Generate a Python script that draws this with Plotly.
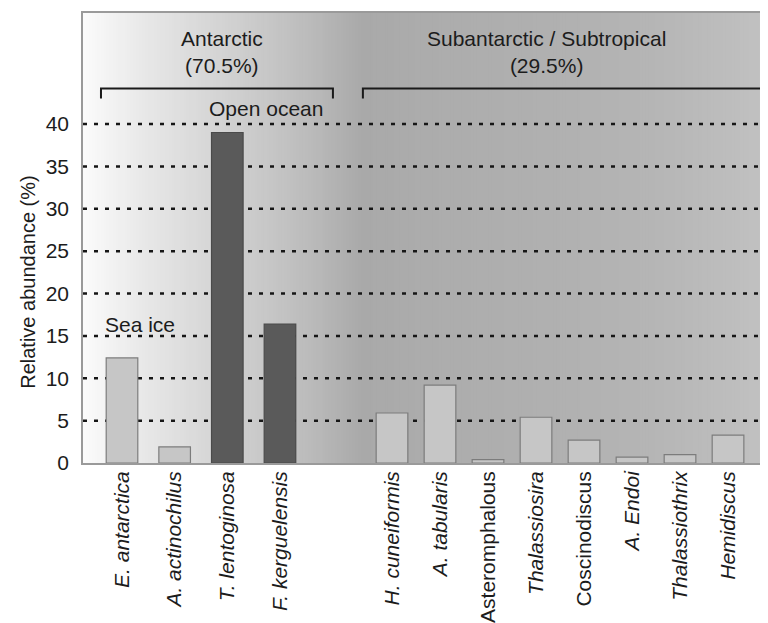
import plotly.graph_objects as go

# ---------------- data ----------------
antarctic_taxa = ["E. antarctica", "A. actinochilus", "T. lentoginosa", "F. kerguelensis"]
antarctic_values = [12.4, 1.9, 39.0, 16.4]
antarctic_habitat = ["Sea ice", "Sea ice", "Open ocean", "Open ocean"]

subantarctic_taxa = ["H. cuneiformis", "A. tabularis", "Asteromphalous", "Thalassiosira",
                     "Coscinodiscus", "A. Endoi", "Thalassiothrix", "Hemidiscus"]
subantarctic_values = [5.9, 9.2, 0.4, 5.4, 2.7, 0.7, 1.0, 3.3]
subantarctic_italic = [True, True, False, True, False, True, True, True]

y_ticks = [0, 5, 10, 15, 20, 25, 30, 35, 40]
group_labels = ["Antarctic<br>(70.5%)", "Subantarctic / Subtropical<br>(29.5%)"]

# ---------------- style ----------------
FONT = "Liberation Sans, Arial, Helvetica, sans-serif"
TXT = "#1c1c1c"
LIGHT_FILL, LIGHT_LINE = "#c6c6c6", "#7c7c7c"
DARK_FILL, DARK_LINE = "#5a5a5a", "#4a4a4a"
habitat_color = {"Sea ice": (LIGHT_FILL, LIGHT_LINE), "Open ocean": (DARK_FILL, DARK_LINE)}

fig = go.Figure()

# dummy trace so the full-width main subplot exists (frame + y axis)
fig.add_trace(go.Scatter(x=[None], y=[None], xaxis="x", yaxis="y",
                         showlegend=False, hoverinfo="skip"))

fig.add_trace(go.Bar(
    x=antarctic_taxa, y=antarctic_values, xaxis="x2", yaxis="y",
    width=0.6,
    marker=dict(color=[habitat_color[h][0] for h in antarctic_habitat],
                line=dict(color=[habitat_color[h][1] for h in antarctic_habitat], width=1.2)),
    showlegend=False, hoverinfo="x+y"))

fig.add_trace(go.Bar(
    x=subantarctic_taxa, y=subantarctic_values, xaxis="x3", yaxis="y",
    width=0.66,
    marker=dict(color=LIGHT_FILL, line=dict(color=LIGHT_LINE, width=1.2)),
    showlegend=False, hoverinfo="x+y"))

shapes = []
# background gradient (grey levels along the plot width)
stops = [(0.0, 251), (0.02, 247), (0.084, 233), (0.172, 217), (0.26, 201), (0.348, 184),
         (0.39, 174), (0.41, 169), (0.5, 172), (0.686, 176), (0.833, 181), (1.0, 193)]
N = 230
def grey(f):
    for (a, ga), (b, gb) in zip(stops[:-1], stops[1:]):
        if a <= f <= b:
            return ga + (gb - ga) * (f - a) / (b - a)
    return stops[-1][1]
for i in range(N):
    x0 = i / N
    x1 = min(1.0, (i + 1.6) / N)
    g = int(round(grey((i + 0.5) / N)))
    shapes.append(dict(type="rect", xref="paper", yref="paper", x0=x0, x1=x1, y0=0, y1=1,
                       fillcolor=f"rgb({g},{g},{g})", line=dict(width=0), layer="below"))
# dotted gridlines
for v in y_ticks[1:]:
    shapes.append(dict(type="line", xref="paper", yref="y", x0=0, x1=1, y0=v, y1=v,
                       line=dict(color="#161616", width=2.5, dash="4px,7px"), layer="below"))
# brackets
for xa, xb in [(0.0264, 0.367), (0.411, 0.997)]:
    shapes.append(dict(type="path", xref="paper", yref="paper",
                       path=f"M {xa},0.810 L {xa},0.832 L {xb},0.832 L {xb},0.810",
                       line=dict(color="#1a1a1a", width=2), layer="above"))

annotations = [
    dict(text=group_labels[0], x=0.204, y=0.9126, xref="paper", yref="paper",
         showarrow=False, xanchor="center", yanchor="middle", font=dict(size=21, color=TXT)),
    dict(text=group_labels[1], x=0.680, y=0.9126, xref="paper", yref="paper",
         showarrow=False, xanchor="center", yanchor="middle", font=dict(size=21, color=TXT)),
    dict(text="Open ocean", x=0.2687, y=0.7876, xref="paper", yref="paper",
         showarrow=False, xanchor="center", yanchor="middle", font=dict(size=21, color=TXT)),
    dict(text="Sea ice", x=0.0837, y=0.3075, xref="paper", yref="paper",
         showarrow=False, xanchor="center", yanchor="middle", font=dict(size=21, color=TXT)),
    dict(text="Relative abundance (%)", x=-0.0808, y=0.4027, xref="paper", yref="paper",
         showarrow=False, xanchor="center", yanchor="middle", textangle=-90,
         font=dict(size=20, color=TXT)),
]

sub_ticktext = [f"<i>{t}</i>" if it else t for t, it in zip(subantarctic_taxa, subantarctic_italic)]
ant_ticktext = [f"<i>{t}</i>" for t in antarctic_taxa]

# page body has an 8px default margin: figure is sized so it ends at the window edge
fig.update_layout(
    width=760, height=615,
    margin=dict(l=75, r=4, t=3, b=160),
    paper_bgcolor="white", plot_bgcolor="rgba(0,0,0,0)",
    font=dict(family=FONT, color=TXT, size=20),
    shapes=shapes, annotations=annotations,
    bargap=0.4,
    xaxis=dict(domain=[0, 1], range=[0, 1], showticklabels=False, showgrid=False,
               zeroline=False, showline=True, mirror=True, linecolor="#9a9a9a",
               linewidth=1.5, fixedrange=True),
    xaxis2=dict(domain=[0.0186, 0.3279], anchor="y", type="category",
                range=[-0.5, 3.5], tickmode="array", tickvals=antarctic_taxa,
                ticktext=ant_ticktext, tickangle=-90, showgrid=False, zeroline=False,
                showline=False, ticks="", ticklabelstandoff=3, automargin=False,
                tickfont=dict(size=21, color=TXT)),
    xaxis3=dict(domain=[0.4185, 0.9824], anchor="y", type="category",
                range=[-0.5, 7.5], tickmode="array", tickvals=subantarctic_taxa,
                ticktext=sub_ticktext, tickangle=-90, showgrid=False, zeroline=False,
                showline=False, ticks="", ticklabelstandoff=3, automargin=False,
                tickfont=dict(size=21, color=TXT)),
    yaxis=dict(domain=[0, 1], anchor="x", range=[0, 53.1], tickmode="array",
               tickvals=y_ticks, showgrid=False, zeroline=False, showline=True,
               mirror=True, linecolor="#9a9a9a", linewidth=1.5, ticks="",
               ticklabelstandoff=8, tickfont=dict(size=21, color=TXT), fixedrange=True,
               automargin=False),
)

fig.write_html("out.html")
